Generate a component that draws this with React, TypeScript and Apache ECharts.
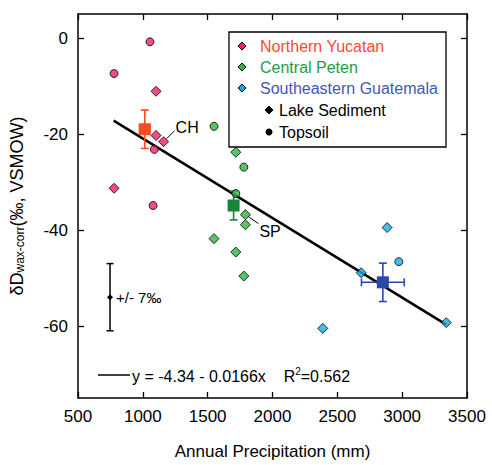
import React, { useEffect, useRef } from 'react';
import * as echarts from 'echarts';

// ---- data ----
const xTicks = [500, 1000, 1500, 2000, 2500, 3000, 3500];
const yTicks = [0, -20, -40, -60];

// Northern Yucatan
const nyLake = [[778, -31.3], [1102, -11.1], [1102, -20.3], [1160, -21.6]];
const nyTop = [[1055, -0.8], [778, -7.4], [1089, -23.2], [1079, -34.9]];
// Central Peten
const cpLake = [[1717, -23.8], [1791, -36.8], [1791, -38.9], [1549, -41.8], [1717, -44.6], [1779, -49.6]];
const cpTop = [[1549, -18.4], [1779, -26.9], [1717, -32.4]];
// Southeastern Guatemala
const sgLake = [[2884, -39.5], [2684, -48.9], [3340, -59.3], [2388, -60.5]];
const sgTop = [[2974, -46.6]];

// region means: x, y, xErr, yErr
const means = [[1015, -19.0, 40, 4], [1700, -34.9, 0, 3], [2851, -50.9, 165, 4]];
const meanColors = ['#ff4a22', '#17853a', '#2c48a6'];

// regression line endpoints
const regLine = [[775, -17.2], [3340, -59.7]];

// typical uncertainty marker: x, y, err
const uncert = [[747, -54, 7]];

// site labels: x, y, text
const siteLabels = [[1160, -21.6, 'CH'], [1791, -36.8, 'SP']];

const PINK = '#ec1f67';
const GREEN = '#2fb53f';
const CYAN = '#19a9de';
const FONT = 'Liberation Sans, Arial, sans-serif';

export default function App() {
  const ref = useRef<HTMLDivElement>(null);
  useEffect(() => {
    const chart = echarts.init(ref.current!, null, { renderer: 'svg' });
    const grid = { left: 78, right: 25, top: 14, bottom: 63 };
    const axisLine = { show: true, onZero: false, lineStyle: { color: '#000', width: 1.5 } };
    const tick = { show: true, inside: true, length: 6, lineStyle: { color: '#000', width: 1.3 } };

    const scatter = (data: number[][], color: string, symbol: string, size: number) => ({
      type: 'scatter',
      data,
      symbol,
      symbolSize: size,
      itemStyle: { color, borderColor: '#000', borderWidth: 1 },
      z: 4,
    });

    const diamond = (cx: number, cy: number, r: number, fill: string) => ({
      type: 'polygon',
      shape: { points: [[cx, cy - r], [cx + r, cy], [cx, cy + r], [cx - r, cy]] },
      style: { fill, stroke: '#000', lineWidth: 1 },
    });
    const ltext = (x: number, y: number, text: string, fill: string) => ({
      type: 'text',
      x,
      y,
      style: { text, fill, font: `16px ${FONT}`, textVerticalAlign: 'middle' },
    });

    chart.setOption({
      animation: false,
      backgroundColor: '#fff',
      grid,
      xAxis: [
        {
          type: 'value', min: 500, max: 3500, interval: 500, position: 'bottom',
          axisLine, axisTick: tick, splitLine: { show: false },
          axisLabel: { color: '#000', fontSize: 17, fontFamily: FONT, margin: 10, customValues: xTicks, formatter: (v: number) => String(v) },
          name: 'Annual Precipitation (mm)', nameLocation: 'middle', nameGap: 45,
          nameTextStyle: { color: '#000', fontSize: 17, fontFamily: FONT },
        },
        {
          type: 'value', min: 500, max: 3500, interval: 500, position: 'top',
          axisLine, axisTick: tick, splitLine: { show: false }, axisLabel: { show: false },
        },
      ],
      yAxis: [
        {
          type: 'value', min: -75, max: 5, position: 'left',
          axisLine, splitLine: { show: false },
          axisTick: { ...tick, customValues: yTicks },
          axisLabel: { color: '#000', fontSize: 17, fontFamily: FONT, margin: 10, customValues: yTicks },
          name: '{a|δD}{b|wax-corr}{a|(‰, VSMOW)}',
          nameLocation: 'middle', nameRotate: 90, nameGap: 52,
          nameTextStyle: {
            color: '#000', fontFamily: FONT,
            rich: {
              a: { fontSize: 18, fontFamily: FONT, color: '#000', lineHeight: 18, verticalAlign: 'middle' },
              b: { fontSize: 12, fontFamily: FONT, color: '#000', lineHeight: 12, verticalAlign: 'bottom', padding: [0, 0, 0, 0] },
            },
          },
        },
        {
          type: 'value', min: -75, max: 5, position: 'right',
          axisLine, splitLine: { show: false },
          axisTick: { ...tick, customValues: yTicks },
          axisLabel: { show: false, customValues: yTicks },
        },
      ],
      series: [
        {
          type: 'line', data: regLine, symbol: 'none', z: 2,
          lineStyle: { color: '#000', width: 2.5 },
        },
        {
          type: 'custom', z: 3,
          data: means,
          renderItem: (params: any, api: any) => {
            const x = api.value(0), y = api.value(1), xe = api.value(2), ye = api.value(3);
            const color = meanColors[params.dataIndex];
            const c = api.coord([x, y]);
            const t = api.coord([x, y + ye]);
            const b = api.coord([x, y - ye]);
            const l = api.coord([x - xe, y]);
            const r = api.coord([x + xe, y]);
            const ls = { stroke: color, lineWidth: 1.6 };
            const cap = 4;
            const children: any[] = [
              { type: 'line', shape: { x1: t[0], y1: t[1], x2: b[0], y2: b[1] }, style: ls },
              { type: 'line', shape: { x1: t[0] - cap, y1: t[1], x2: t[0] + cap, y2: t[1] }, style: ls },
              { type: 'line', shape: { x1: b[0] - cap, y1: b[1], x2: b[0] + cap, y2: b[1] }, style: ls },
            ];
            if (xe > 0) {
              children.push(
                { type: 'line', shape: { x1: l[0], y1: l[1], x2: r[0], y2: r[1] }, style: ls },
                { type: 'line', shape: { x1: l[0], y1: l[1] - cap, x2: l[0], y2: l[1] + cap }, style: ls },
                { type: 'line', shape: { x1: r[0], y1: r[1] - cap, x2: r[0], y2: r[1] + cap }, style: ls },
              );
            }
            children.push({ type: 'rect', shape: { x: c[0] - 6, y: c[1] - 6, width: 12, height: 12 }, style: { fill: color } });
            return { type: 'group', children };
          },
        },
        scatter(nyLake, PINK, 'diamond', 10),
        scatter(nyTop, PINK, 'circle', 8),
        scatter(cpLake, GREEN, 'diamond', 10),
        scatter(cpTop, GREEN, 'circle', 8),
        scatter(sgLake, CYAN, 'diamond', 10),
        scatter(sgTop, CYAN, 'circle', 8),
        {
          type: 'custom', z: 5,
          data: siteLabels,
          renderItem: (params: any, api: any) => {
            const p = api.coord([api.value(0), api.value(1)]);
            const txt = siteLabels[params.dataIndex][2] as string;
            const isCH = txt === 'CH';
            const end = isCH ? [p[0] + 11, p[1] - 11] : [p[0] + 13, p[1] + 9];
            return {
              type: 'group',
              children: [
                { type: 'line', shape: { x1: p[0] + 3, y1: p[1] + (isCH ? -3 : 2), x2: end[0], y2: end[1] }, style: { stroke: '#000', lineWidth: 1 } },
                {
                  type: 'text', x: end[0] + 1, y: isCH ? end[1] - 3 : end[1] + 8,
                  style: { text: txt, fill: '#000', font: `16px ${FONT}`, textVerticalAlign: 'middle' },
                },
              ],
            };
          },
        },
        {
          type: 'custom', z: 5,
          data: uncert,
          renderItem: (params: any, api: any) => {
            const x = api.value(0), y = api.value(1), e = api.value(2);
            const c = api.coord([x, y]);
            const t = api.coord([x, y + e]);
            const b = api.coord([x, y - e]);
            const ls = { stroke: '#000', lineWidth: 1.5 };
            return {
              type: 'group',
              children: [
                { type: 'line', shape: { x1: t[0], y1: t[1], x2: b[0], y2: b[1] }, style: ls },
                { type: 'line', shape: { x1: t[0] - 3.5, y1: t[1], x2: t[0] + 3.5, y2: t[1] }, style: ls },
                { type: 'line', shape: { x1: b[0] - 3.5, y1: b[1], x2: b[0] + 3.5, y2: b[1] }, style: ls },
                { type: 'polygon', shape: { points: [[c[0], c[1] - 3], [c[0] + 3, c[1]], [c[0], c[1] + 3], [c[0] - 3, c[1]]] }, style: { fill: '#000' } },
                { type: 'text', x: c[0] + 6, y: c[1], style: { text: '+/- 7‰', fill: '#000', font: `15px ${FONT}`, textVerticalAlign: 'middle' } },
              ],
            };
          },
        },
      ],
      graphic: [
        { type: 'rect', shape: { x: 229, y: 32, width: 217, height: 115 }, style: { fill: '#fff', stroke: '#000', lineWidth: 1.3 }, z: 10 },
        { ...diamond(242, 46, 4, PINK), z: 11 },
        { ...diamond(242, 67, 4, GREEN), z: 11 },
        { ...diamond(242, 88, 4, CYAN), z: 11 },
        { ...diamond(269, 110, 4, '#000'), z: 11 },
        { type: 'circle', shape: { cx: 269, cy: 132, r: 3.5 }, style: { fill: '#000' }, z: 11 },
        { ...ltext(260, 46, 'Northern Yucatan', '#ff4a2c'), z: 11 },
        { ...ltext(260, 67, 'Central Peten', '#1e9a48'), z: 11 },
        { ...ltext(260, 88, 'Southeastern Guatemala', '#3f58b8'), z: 11 },
        { ...ltext(279, 110, 'Lake Sediment', '#000'), z: 11 },
        { ...ltext(279, 132, 'Topsoil', '#000'), z: 11 },
        { type: 'line', shape: { x1: 98, y1: 375, x2: 130, y2: 375 }, style: { stroke: '#000', lineWidth: 1.5 }, z: 11 },
        {
          type: 'text', x: 132, y: 375, z: 11,
          style: {
            text: '{a|y = -4.34 - 0.0166x    R}{s|2}{a|=0.562}',
            textVerticalAlign: 'middle',
            rich: {
              a: { fontSize: 16, fontFamily: FONT, fill: '#000', lineHeight: 18, verticalAlign: 'bottom' },
              s: { fontSize: 10, fontFamily: FONT, fill: '#000', lineHeight: 18, verticalAlign: 'top' },
            },
          } as any,
        },
      ],
    });
    return () => chart.dispose();
  }, []);
  return <div ref={ref} style={{ position: 'fixed', left: 0, top: 0, width: 492, height: 465, background: '#fff' }} />;
}
